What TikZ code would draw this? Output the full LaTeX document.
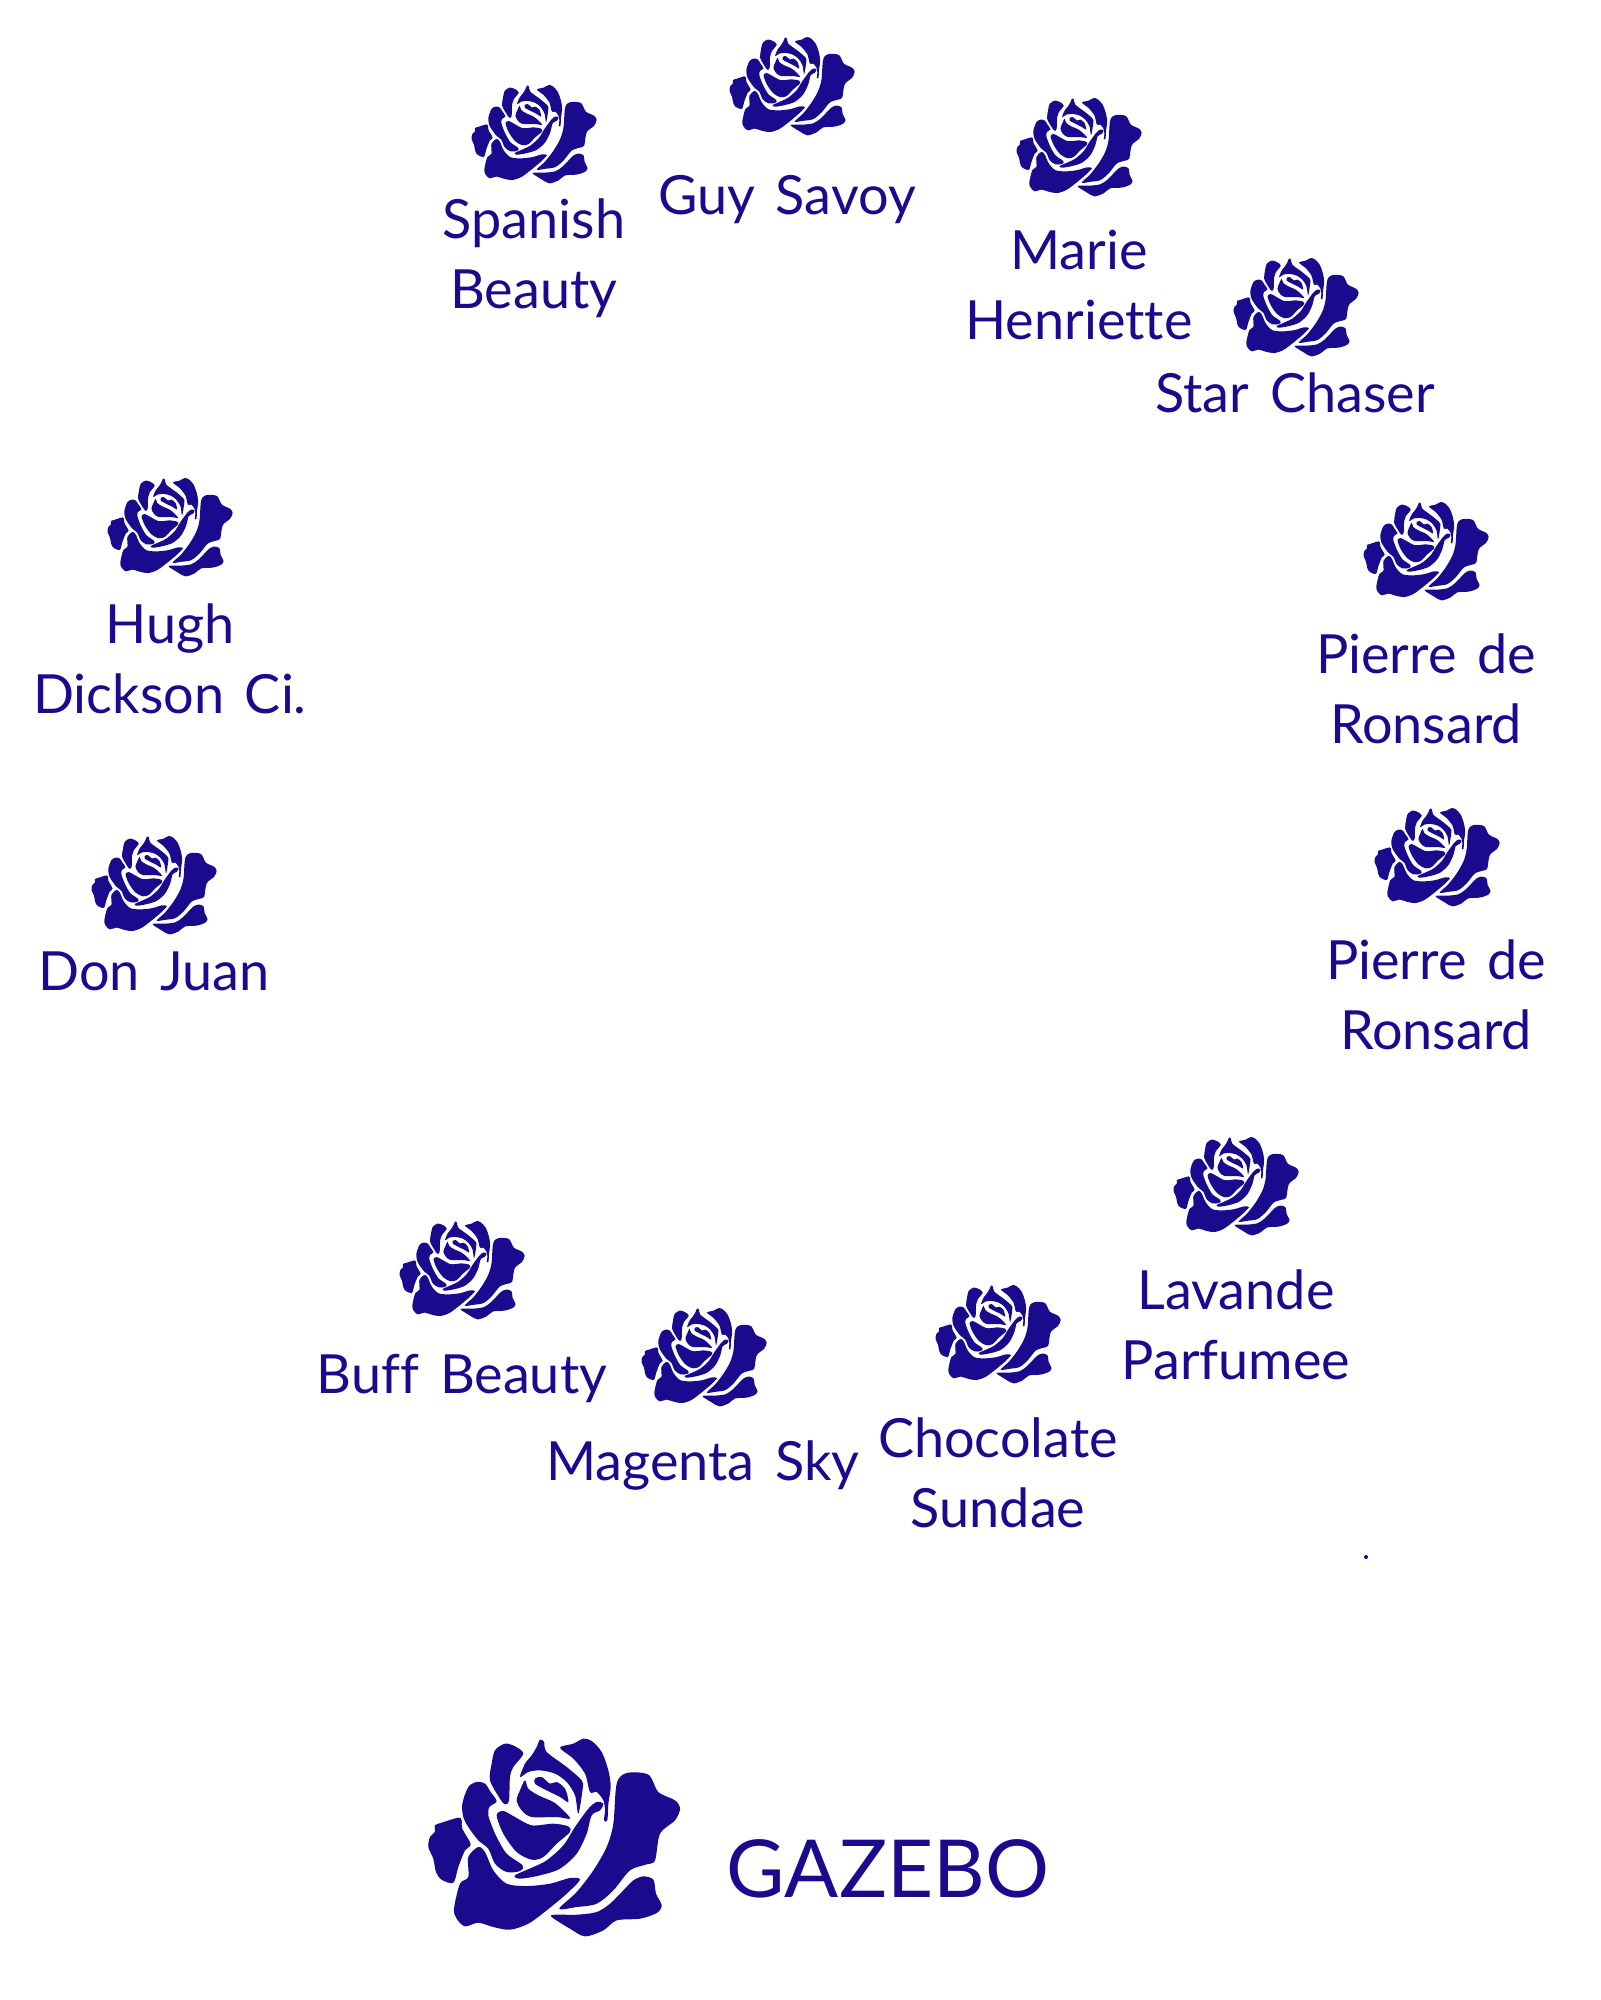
\documentclass[tikz,border=0pt]{standalone}
\usepackage{fontspec}
\setmainfont{Lato}[Ligatures=NoCommon,WordSpace=1.5]
\definecolor{roseblue}{HTML}{1A0A8E}
\tikzset{
  rosepetal/.style={fill=roseblue,draw=none},
  roselabel/.style={text=roseblue,align=center,inner sep=0pt,font=\fontsize{27}{34.8}\selectfont},
  brandlabel/.style={text=roseblue,inner sep=0pt,font=\fontsize{40}{48}\selectfont},
  pics/roseflower/.style={code={
    \begin{scope}[x=.1667pt,y=-.1667pt,shift={(-462,-350)}]
    %% outer petals
    \fill[rosepetal] plot[smooth cycle,tension=.5] coordinates {(105,315) (125,307) (175,292) (185,300) (187,325) (212,372) (195,390) (175,440) (160,487) (125,478) (108,455) (100,415) (85,380) (90,350) (105,335)};
    \fill[rosepetal] plot[smooth cycle,tension=.5] coordinates {(205,200) (230,185) (255,190) (272,215) (290,243) (268,260) (265,285) (275,315) (290,350) (320,400) (368,435) (360,452) (320,455) (285,430) (265,385) (235,360) (205,320) (190,290) (187,250)};
    \fill[rosepetal] plot[smooth cycle,tension=.5] coordinates {(285,90) (315,70) (345,78) (370,100) (340,140) (330,170) (327,240) (315,252) (300,235) (270,180) (275,130)};
    \fill[rosepetal] plot[smooth cycle,tension=.5] coordinates {(480,82) (520,70) (550,55) (575,62) (605,95) (625,150) (632,200) (625,250) (622,300) (612,300) (615,270) (610,240) (590,215) (570,215) (555,160) (520,115)};
    \fill[rosepetal] plot[smooth cycle,tension=.5] coordinates {(650,190) (680,158) (745,163) (775,215) (825,240) (840,265) (825,300) (780,340) (765,420) (740,432) (690,450) (640,510) (590,550) (530,560) (478,565) (530,515) (580,450) (620,380) (640,310)};
    \fill[rosepetal] plot[smooth cycle,tension=.5] coordinates {(700,480) (730,468) (760,478) (768,520) (785,555) (770,578) (720,595) (650,600) (610,630) (555,648) (510,625) (455,590) (465,583) (530,583) (590,575) (630,550) (670,510)};
    \fill[rosepetal] plot[smooth cycle,tension=.5] coordinates {(205,410) (235,380) (255,395) (280,450) (320,490) (380,497) (450,490) (510,473) (540,478) (500,520) (440,570) (385,610) (330,628) (280,620) (235,607) (195,618) (170,595) (162,565) (180,490) (205,470)};
    %% inner petals
    \fill[rosepetal] plot[smooth cycle,tension=.5] coordinates {(410,80) (420,58) (432,65) (440,95) (500,140) (545,180) (548,205) (535,280) (525,225) (500,185) (465,160) (420,150) (385,155) (360,170) (375,130) (395,105)};
    \fill[rosepetal] plot[smooth cycle,tension=.5] coordinates {(345,465) (400,440) (440,420) (490,375) (525,320) (565,265) (590,245) (610,250) (600,270) (575,285) (560,340) (530,400) (480,445) (420,465) (360,475)};
    \fill[rosepetal] plot[smooth cycle,tension=.5] coordinates {(290,285) (310,272) (345,290) (395,315) (460,310) (505,318) (510,335) (470,370) (430,410) (395,418) (350,395) (310,340)};
    \fill[rosepetal] plot[smooth cycle,tension=.5] coordinates {(375,180) (385,205) (415,225) (460,245) (490,270) (510,295) (470,290) (395,290) (365,270) (350,240) (360,210)};
    \fill[rosepetal] plot[smooth cycle,tension=.5] coordinates {(405,175) (425,170) (450,190) (470,185) (495,205) (505,245) (480,230) (430,205) (405,190)};
    \end{scope}
  }}
}
\begin{document}
\begin{tikzpicture}[x=.5pt,y=-.5pt]
\useasboundingbox (0,0) rectangle (1600,2000);
%% roses and their names
\foreach \nodename/\x/\y/\lx/\ly/\labeltext in {
  spanish/534/134/534/258/Spanish\\Beauty,
  guy/792/86/787/200/Guy Savoy,
  marie/1079/147/1079/285/Marie\\Henriette,
  star/1296/307/1295/393/Star Chaser,
  pierrea/1426/551/1426/689/Pierre de\\Ronsard,
  pierreb/1437/857/1436/995/Pierre de\\Ronsard,
  lavande/1236/1186/1236/1325/Lavande\\Parfumee,
  chocolate/998/1334/998/1473/Chocolate\\Sundae,
  magenta/704/1357/703/1466/Magenta Sky,
  buff/462/1270/462/1378/Buff Beauty,
  donjuan/154/885/154/971/Don Juan,
  hugh/170/527/170/659/Hugh\\Dickson Ci.} {
  \pic (\nodename) at (\x,\y) [scale=.497] {roseflower};
  \node (\nodename label) at (\lx,\ly) [roselabel] {\labeltext};
}
%% logo
\pic (logo) at (554,1837) {roseflower};
\node (logolabel) at (888,1869) [brandlabel] {GAZEBO};
\coordinate (speck) at (1366,1557);
\fill[roseblue] (speck) circle (2);
\end{tikzpicture}
\end{document}
